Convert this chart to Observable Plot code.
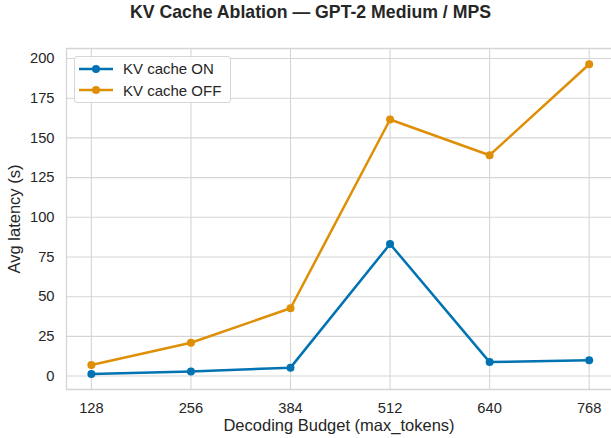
<!DOCTYPE html>
<html>
<head>
<meta charset="utf-8">
<script src="https://cdn.jsdelivr.net/npm/d3@7"></script>
<script src="https://cdn.jsdelivr.net/npm/@observablehq/plot@0.6"></script>
<style>
  html, body { margin: 0; padding: 0; background: #fff; }
  #wrap { position: relative; width: 611px; height: 438px; font-family: "Liberation Sans", Arial, sans-serif; color: #262626; }
  #title { height: 26px; padding-top: 4px; padding-left: 10px; line-height: 16px; font-size: 17.7px; font-weight: bold; text-align: center; white-space: nowrap; }
  #legend { position: absolute; left: 74px; top: 56px; width: 155px; height: 45px; border: 1px solid #d6d6d6; border-radius: 3px; background: rgba(255,255,255,0.85); box-sizing: content-box; }
  .row { position: absolute; left: 4px; height: 20px; display: flex; align-items: center; font-size: 15px; white-space: nowrap; }
  .row svg { margin-right: 10px; }
</style>
</head>
<body>
<div id="wrap">
  <div id="title">KV Cache Ablation — GPT-2 Medium / MPS</div>
  <div id="chart"></div>
  <div id="legend"></div>
</div>
<script>
const tokens = [128, 256, 384, 512, 640, 768];
const seriesNames = ["KV cache ON", "KV cache OFF"];
const seriesColors = ["#0173b2", "#de8f05"];
const onLatency = [1.3, 2.9, 5.3, 83.2, 8.8, 9.9];
const offLatency = [7.0, 21.0, 42.7, 161.6, 139.1, 196.4];
const yTicks = [0, 25, 50, 75, 100, 125, 150, 175, 200];
const xDomain = [96, 796.7];
const yDomain = [-8.46, 206.3];

const data = [];
tokens.forEach((t, i) => {
  data.push({tokens: t, latency: onLatency[i], series: seriesNames[0]});
  data.push({tokens: t, latency: offLatency[i], series: seriesNames[1]});
});

const grid = "#d5d5d5";
const chart = Plot.plot({
  width: 611,
  height: 408,
  marginLeft: 66,
  marginRight: 0,
  marginTop: 18,
  marginBottom: 49,
  style: {fontFamily: "'Liberation Sans', Arial, sans-serif", fontSize: "14.7px", color: "#262626", background: "white", overflow: "visible"},
  x: {domain: xDomain},
  y: {domain: yDomain},
  color: {domain: seriesNames, range: seriesColors},
  marks: [
    Plot.gridX(tokens, {stroke: grid, strokeOpacity: 1, strokeWidth: 1.1}),
    Plot.gridY(yTicks, {stroke: grid, strokeOpacity: 1, strokeWidth: 1.1}),
    Plot.ruleX([xDomain[0]], {stroke: grid, strokeWidth: 1.3}),
    Plot.ruleY([yDomain[0], yDomain[1]], {stroke: grid, strokeWidth: 1.3}),
    Plot.axisX(tokens, {tickSize: 0, tickPadding: 13, fontSize: 14.7, fill: "#262626",
      label: "Decoding Budget (max_tokens)", labelAnchor: "center", labelArrow: "none", labelOffset: 41}),
    Plot.axisY(yTicks, {tickSize: 0, tickPadding: 12, fontSize: 14.7, fill: "#262626",
      label: "Avg latency (s)", labelAnchor: "center", labelArrow: "none", labelOffset: 58.5}),
    Plot.line(data, {x: "tokens", y: "latency", z: "series", stroke: "series", strokeWidth: 2.5}),
    Plot.dot(data, {x: "tokens", y: "latency", fill: "series", r: 4})
  ]
});
document.getElementById("chart").appendChild(chart);
chart.querySelectorAll("g[aria-label='x-axis label'] text, g[aria-label='y-axis label'] text").forEach(t => t.setAttribute("font-size", "16.5"));

const legend = document.getElementById("legend");
seriesNames.forEach((name, i) => {
  const row = document.createElement("div");
  row.className = "row";
  row.style.top = (1.5 + i * 21.5) + "px";
  row.innerHTML = `<svg width="34" height="10"><line x1="0" x2="34" y1="5" y2="5" stroke="${seriesColors[i]}" stroke-width="2.5"/><circle cx="17" cy="5" r="4" fill="${seriesColors[i]}"/></svg><span>${name}</span>`;
  legend.appendChild(row);
});
</script>
</body>
</html>
